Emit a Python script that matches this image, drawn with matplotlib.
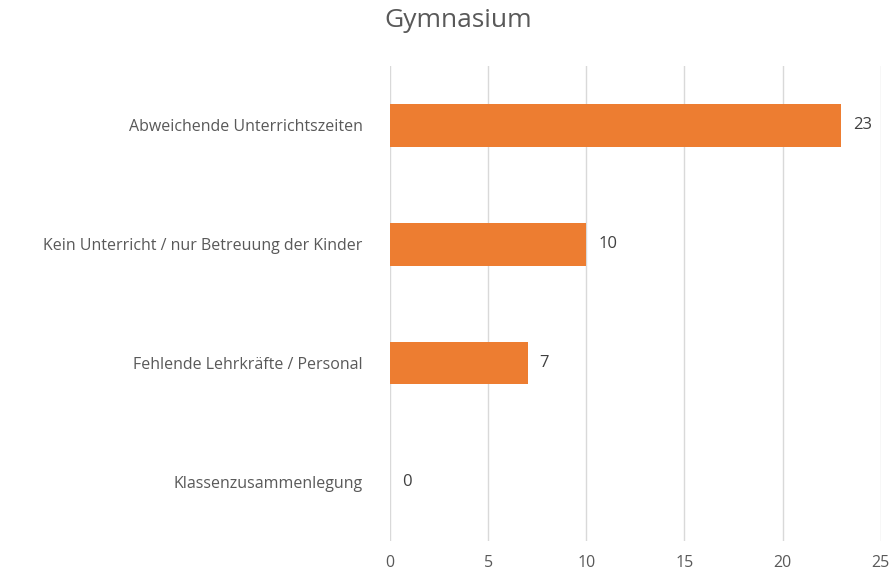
import matplotlib.pyplot as plt

# Data
categories = ['Abweichende Unterrichtszeiten',
              'Kein Unterricht / nur Betreuung der Kinder',
              'Fehlende Lehrkräfte / Personal',
              'Klassenzusammenlegung']
values = [23, 10, 7, 0]
x_ticks = [0, 5, 10, 15, 20, 25]

plt.rcParams['font.family'] = ['Open Sans', 'DejaVu Sans']
text_color = '#595959'

fig = plt.figure(figsize=(8.95, 5.74), dpi=100)
ax = fig.add_axes([0.436, 0.057, 0.548, 0.828])

pos = list(range(len(categories)))[::-1]
bars = ax.barh(pos, values, height=0.36, color='#ED7D31', zorder=3)

for p, v in zip(pos, values):
    ax.text(v + 0.6, p, str(v), va='center', ha='left',
            fontsize=12, color='#404040')

ax.set_xlim(0, 25)
ax.set_ylim(-0.5, 3.5)
ax.set_xticks(x_ticks)
ax.set_yticks(pos)
ax.set_yticklabels(categories)
ax.tick_params(axis='both', length=0, labelsize=11.5, colors=text_color)
ax.tick_params(axis='y', pad=20)
ax.tick_params(axis='x', pad=10)
ax.xaxis.grid(True, color='#D9D9D9', linewidth=1, zorder=0)
for s in ax.spines.values():
    s.set_visible(False)

fig.text(0.512, 0.965, 'Gymnasium', ha='center', va='center',
         fontsize=19, color=text_color)

fig.savefig('out.png', dpi=100)
